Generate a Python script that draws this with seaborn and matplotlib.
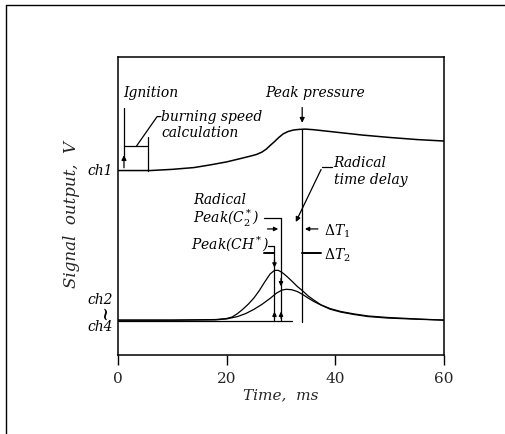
import numpy as np
import pandas as pd
import matplotlib
matplotlib.use("Agg")
import matplotlib.pyplot as plt
from matplotlib.lines import Line2D
import seaborn as sns

# ---------------- data ----------------
ch1_time = [0, 6, 10, 14, 17, 20, 22.5, 24.5, 25.5, 26.5, 27.3, 28, 28.8, 29.6, 30.4, 31.3, 32.3, 33.3,
            34.5, 36, 38, 40, 45, 50, 55, 60]
ch1_signal = [61.9, 61.9, 62.3, 62.9, 63.8, 64.8, 65.9, 66.8, 67.3, 68.1, 69.1, 70.3, 71.6, 73.0, 74.2,
              75.0, 75.5, 75.7, 75.8, 75.6, 75.2, 74.8, 73.8, 73.0, 72.3, 71.8]

ch_star_time = [0, 10, 18, 20, 21, 22, 23, 24, 25, 26, 27, 28, 28.8, 29.5, 30.2, 31, 32, 33, 34, 35, 36,
                37.3, 39, 41, 43.4, 46, 49.6, 55, 60]
ch_star_signal = [11.7, 11.7, 11.9, 12.25, 12.75, 13.9, 15.4, 17.1, 19.1, 21.6, 24.5, 27.2, 28.4, 28.4,
                  27.7, 26.5, 24.8, 23.0, 21.5, 19.8, 18.5, 16.9, 15.6, 14.6, 13.8, 13.1, 12.6, 12.1, 11.7]

c2_star_time = [0, 10, 18, 20, 22, 23.5, 25, 26.5, 28, 29.2, 30.2, 31, 32, 33, 34, 35, 36, 37.3, 39, 41,
                43.4, 46, 49.6, 55, 60]
c2_star_signal = [11.7, 11.7, 11.8, 12.1, 12.9, 13.9, 15.3, 17.0, 19.0, 20.8, 21.8, 22.05, 21.9, 21.3,
                  20.3, 19.1, 18.0, 16.8, 15.4, 14.4, 13.6, 12.9, 12.4, 12.0, 11.7]

baseline_time = [0, 32]
baseline_signal = [11.4, 11.4]

x_ticks = [0, 20, 40, 60]
ignition_t = 1.1
burning_end_t = 5.5
peak_pressure_t = 33.9
peak_ch_t = 28.8
peak_c2_t = 30.0

# ---------------- style ----------------
sns.set_theme(style="white")
plt.rcParams["font.family"] = ["DejaVu Serif", "DejaVu Sans"]
plt.rcParams["mathtext.fontset"] = "dejavuserif"
plt.rcParams["mathtext.default"] = "it"

fig = plt.figure(figsize=(5.06, 4.34), dpi=100)
ax = fig.add_axes([118 / 506, 1 - 355 / 434, 326 / 506, 298 / 434])

lw = 0.9
df1 = pd.DataFrame({"t": ch1_time, "v": ch1_signal})
df2 = pd.DataFrame({"t": ch_star_time, "v": ch_star_signal})
df3 = pd.DataFrame({"t": c2_star_time, "v": c2_star_signal})
df4 = pd.DataFrame({"t": baseline_time, "v": baseline_signal})
sns.lineplot(data=df1, x="t", y="v", ax=ax, color="black", linewidth=1.1, sort=False)
for d in (df2, df3, df4):
    sns.lineplot(data=d, x="t", y="v", ax=ax, color="black", linewidth=lw, sort=False)

ax.set_xlim(0, 60)
ax.set_ylim(0, 100)
ax.set_xticks(x_ticks)
ax.set_xticklabels([str(t) for t in x_ticks], fontsize=11)
ax.set_yticks([])
ax.tick_params(axis="x", direction="out", length=7, width=1, color="black", pad=5, bottom=True)
for s in ax.spines.values():
    s.set_color("black")
    s.set_linewidth(1.1)
ax.set_xlabel("Time,  ms", fontsize=11, style="italic", labelpad=2)
ax.set_ylabel("")
fig.text(72 / 506, 1 - 215 / 434, "Signal  output,  V", rotation=90, fontsize=12,
         style="italic", ha="center", va="center")

ital = dict(style="italic", fontsize=10, color="black")
k = dict(color="black", linewidth=lw)

# channel labels
ax.text(-0.9, 61.9, "ch1", ha="right", va="center", **ital)
ax.text(-0.9, 18.5, "ch2", ha="right", va="center", clip_on=False, **ital)
ax.text(-2.4, 14.1, "~", ha="center", va="center", rotation=90, fontsize=13, color="black")
ax.text(-0.9, 9.5, "ch4", ha="right", va="center", clip_on=False, **ital)

# ignition
ax.text(0.9, 87.9, "Ignition", ha="left", va="center", **ital)
ax.plot([ignition_t, ignition_t], [65.5, 83.0], **k)
ax.annotate("", xy=(ignition_t, 68.0), xytext=(ignition_t, 61.9),
            arrowprops=dict(arrowstyle="-|>", color="black", lw=lw, mutation_scale=7))
# burning speed calculation bracket
ax.plot([burning_end_t, burning_end_t], [61.9, 73.2], **k)
ax.plot([ignition_t, burning_end_t], [70.1, 70.1], **k)
ax.plot([3.4, 7.2, 7.9], [70.1, 80.0, 80.0], **k)
ax.text(7.9, 80.0, "burning speed", ha="left", va="center", **ital)
ax.text(7.9, 74.6, "calculation", ha="left", va="center", **ital)

# peak pressure
ax.text(27.1, 87.9, "Peak pressure", ha="left", va="center", **ital)
ax.plot([peak_pressure_t, peak_pressure_t], [11.0, 75.8], **k)
ax.annotate("", xy=(peak_pressure_t, 77.0), xytext=(peak_pressure_t, 84.0),
            arrowprops=dict(arrowstyle="-|>", color="black", lw=lw, mutation_scale=7))

# radical time delay
ax.text(39.7, 64.4, "Radical", ha="left", va="center", **ital)
ax.text(39.7, 58.6, "time delay", ha="left", va="center", **ital)
ax.plot([37.6, 39.4], [63.1, 63.1], **k)
ax.annotate("", xy=(32.5, 43.8), xytext=(37.6, 63.1),
            arrowprops=dict(arrowstyle="-|>", color="black", lw=lw, mutation_scale=7))

# radical peaks (left side)
ax.text(13.85, 52.0, "Radical", ha="left", va="center", **ital)
ax.text(13.85, 46.0, "Peak(C$_2^*$)", ha="left", va="center", **ital)
ax.plot([26.8, peak_c2_t], [46.0, 46.0], **k)
ax.plot([peak_c2_t, peak_c2_t], [11.4, 46.0], **k)
ax.annotate("", xy=(peak_c2_t, 42.3), xytext=(27.0, 42.3),
            arrowprops=dict(arrowstyle="-|>", color="black", lw=lw, mutation_scale=6))

ax.text(13.5, 37.4, "Peak(CH$^*$)", ha="left", va="center", **ital)
ax.plot([27.6, peak_ch_t], [36.6, 36.6], **k)
ax.plot([26.8, peak_ch_t], [34.2, 34.2], color="black", linewidth=1.4)
ax.plot([peak_ch_t, peak_ch_t], [11.4, 36.6], **k)

# small arrows marking peak heights
for t, top in ((peak_ch_t, 28.4), (peak_c2_t, 22.1)):
    ax.annotate("", xy=(t, top), xytext=(t, top + 4.5),
                arrowprops=dict(arrowstyle="-|>", color="black", lw=lw, mutation_scale=6))
    ax.annotate("", xy=(t, 15.5), xytext=(t, 11.4),
                arrowprops=dict(arrowstyle="-|>", color="black", lw=lw, mutation_scale=6))

# delta T markers
ax.annotate("", xy=(peak_pressure_t, 42.3), xytext=(37.3, 42.3),
            arrowprops=dict(arrowstyle="-|>", color="black", lw=lw, mutation_scale=6))
ax.text(38.0, 41.6, r"$\Delta T_1$", ha="left", va="center", fontsize=10, color="black")
ax.plot([peak_pressure_t, 37.3], [34.2, 34.2], color="black", linewidth=1.4)
ax.text(38.0, 33.4, r"$\Delta T_2$", ha="left", va="center", fontsize=10, color="black")

# outer frame of the scanned figure
fig.add_artist(Line2D([6 / 506, 6 / 506], [0, 1 - 5 / 434], color="black", linewidth=1.0))
fig.add_artist(Line2D([6 / 506, 1], [1 - 5 / 434, 1 - 5 / 434], color="black", linewidth=1.0))

fig.savefig("out.png", dpi=100)
